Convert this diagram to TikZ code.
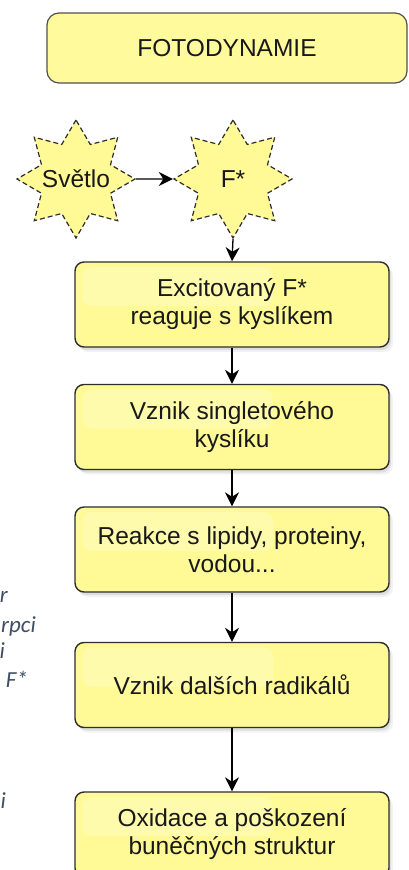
\documentclass[tikz,border=0pt]{standalone}
\usepackage{fontspec}
\setmainfont{Liberation Sans}
\newfontfamily\notefont{Carlito}
\usetikzlibrary{arrows.meta,shapes.geometric,shadows,calc}

\definecolor{boxfill}{RGB}{255,250,150}
\definecolor{titlefill}{RGB}{255,251,156}
\definecolor{boxline}{RGB}{45,45,45}
\definecolor{titleline}{RGB}{80,80,80}
\definecolor{txt}{RGB}{25,25,25}
\definecolor{notecol}{RGB}{62,78,100}

\begin{document}
\begin{tikzpicture}[x=1pt,y=-1pt,
  font=\fontsize{24.5}{28}\selectfont,
  titlebox/.style={draw=titleline, line width=1.2pt, fill=titlefill,
    rounded corners=12pt, minimum width=360pt, minimum height=70pt,
    text=txt},
  stepbox/.style={draw=boxline, line width=1.4pt, fill=boxfill,
    rounded corners=9pt, minimum width=314pt, minimum height=85pt,
    align=center, text=txt,
    drop shadow={shadow xshift=2pt, shadow yshift=-3pt, opacity=0.18},
    drop shadow={shadow xshift=4pt, shadow yshift=-5pt, opacity=0.10},
    path picture={
      \fill[white, opacity=0.22, rounded corners=10pt]
        ($(path picture bounding box.north west)+(7pt,-5pt)$) rectangle
        ($(path picture bounding box.north west)+(198pt,-44pt)$);
    }},
  starnode/.style={star, star points=8, star point ratio=1.58,
    minimum size=118pt, inner sep=0pt, draw=boxline, line width=1.2pt,
    dash pattern=on 5pt off 3pt, fill=boxfill, text=txt},
  flow/.style={-{Stealth[length=14pt,width=14pt,inset=4.5pt]},
    line width=1.3pt, draw=black},
  note/.style={font=\notefont\itshape\fontsize{23}{27}\selectfont,
    text=notecol, inner sep=0pt, anchor=base east}
]
\useasboundingbox (0,0) rectangle (409,870);
\clip (0,0) rectangle (409,870);

% title
\node[titlebox] (title) at (227,48) {FOTODYNAMIE};

% light and the excited photosensitizer (label width kept out of the star size)
\node[starnode] (light) at (76,179) {\makebox[0pt]{Světlo}};
\node[starnode] (fstar) at (233,179) {\makebox[0pt]{F*}};

% process steps
\node[stepbox] (s1) at (232,304.5) {Excitovaný F*\\reaguje s kyslíkem};
\node[stepbox] (s2) at (232,427) {Vznik singletového\\kyslíku};
\node[stepbox] (s3) at (232,549.5) {Reakce s lipidy, proteiny,\\vodou...};
\node[stepbox] (s4) at (232,685) {Vznik dalších radikálů};
\node[stepbox] (s5) at (232,834.5) {Oxidace a poškození\\buněčných struktur};

% connectors
\draw[flow] (light.east) -- (fstar.west);
\draw[flow] (fstar.south) -- (s1.north);
\draw[flow] (s1.south) -- (s2.north);
\draw[flow] (s2.south) -- (s3.north);
\draw[flow] (s3.south) -- (s4.north);
\draw[flow] (s4.south) -- (s5.north);

% side notes along the left edge
\node[note] (n1) at (8,602) {r};
\node[note] (n2) at (36,632) {rpci};
\node[note] (n3) at (5,658) {i};
\node[note] (n4) at (28,687) {F*};
\node[note] (n5) at (6,808) {i};
\end{tikzpicture}
\end{document}
